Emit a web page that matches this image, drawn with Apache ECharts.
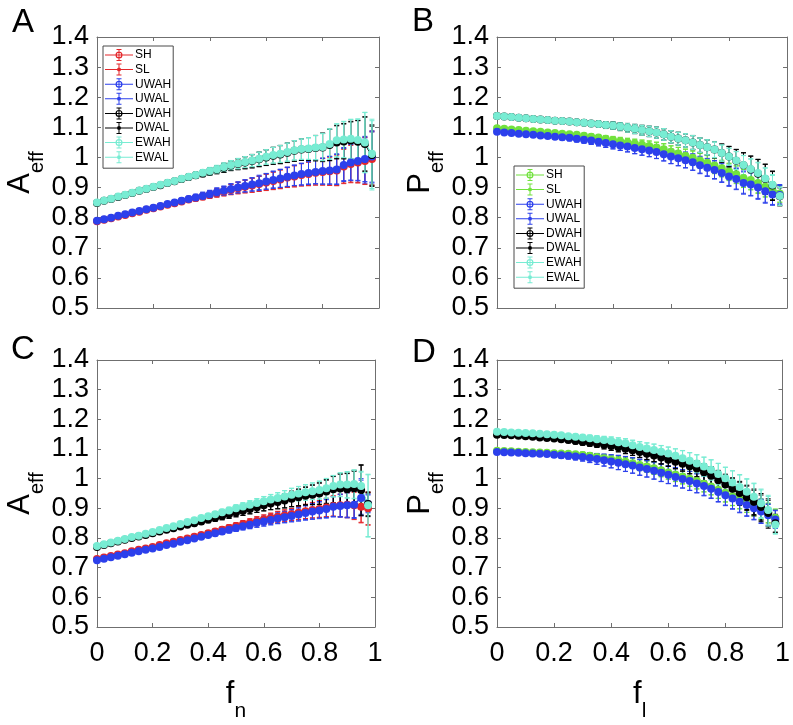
<!DOCTYPE html>
<html>
<head>
<meta charset="utf-8">
<script src="https://cdn.jsdelivr.net/npm/echarts@6/dist/echarts.min.js"></script>
<style>
html, body { margin: 0; padding: 0; background: #fff; }
#chart { width: 793px; height: 725px; }
</style>
</head>
<body>
<div id="chart"></div>
<script>
// x positions (f_n for A/C, f_l for B/D)
const fVals = [0, 0.025, 0.05, 0.075, 0.1, 0.125, 0.15, 0.175, 0.2, 0.225, 0.25, 0.275, 0.3, 0.325, 0.35, 0.375, 0.4, 0.425, 0.45, 0.475,
  0.5, 0.525, 0.55, 0.575, 0.6, 0.625, 0.65, 0.675, 0.7, 0.725, 0.75, 0.775, 0.8, 0.825, 0.85, 0.875, 0.9, 0.925, 0.95, 0.975];
const seriesNames = ['SH', 'SL', 'UWAH', 'UWAL', 'DWAH', 'DWAL', 'EWAH', 'EWAL'];
const xTicks = [0, 0.2, 0.4, 0.6, 0.8, 1];
const yTicks = [0.5, 0.6, 0.7, 0.8, 0.9, 1, 1.1, 1.2, 1.3, 1.4];

// ---- panel A : A_eff vs f_n
const A_SH = [.788,.793,.798,.804,.809,.815,.820,.826,.831,.837,.843,.848,.854,.860,.865,.870,.876,.882,.887,.893,.898,.903,.907,.912,.917,.922,.927,.933,.937,.942,.945,.949,.952,.954,.957,.970,.978,.983,.988,.995];
const A_SL = [.789,.794,.799,.805,.810,.816,.821,.827,.832,.838,.844,.849,.855,.861,.866,.871,.877,.883,.888,.894,.899,.904,.908,.913,.918,.923,.928,.934,.938,.943,.946,.950,.953,.955,.958,.972,.980,.985,.990,.998];
const A_UWAH = [.790,.795,.800,.806,.811,.817,.822,.828,.833,.839,.845,.850,.856,.862,.867,.872,.878,.884,.889,.895,.900,.905,.910,.914,.920,.925,.930,.936,.940,.945,.948,.952,.955,.957,.960,.975,.983,.988,.995,1.003];
const A_UWAL = [.791,.796,.801,.806,.812,.817,.823,.828,.834,.840,.845,.851,.857,.862,.868,.874,.879,.885,.890,.896,.901,.906,.911,.917,.921,.927,.931,.935,.941,.944,.950,.953,.954,.958,.962,.978,.985,.990,.990,1.000];
const A_DWAH = [.849,.856,.862,.869,.875,.882,.889,.895,.902,.908,.915,.921,.928,.935,.941,.947,.953,.959,.966,.973,.978,.983,.988,.994,1.000,1.006,1.010,1.016,1.022,1.026,1.028,1.031,1.033,1.041,1.050,1.053,1.056,1.052,1.045,1.008];
const A_DWAL = [.849,.855,.862,.868,.875,.881,.888,.894,.901,.908,.914,.921,.927,.934,.940,.947,.953,.959,.965,.972,.977,.982,.987,.993,.999,1.005,1.009,1.015,1.021,1.026,1.028,1.031,1.034,1.042,1.052,1.055,1.058,1.053,1.044,1.004];
const A_EWAH = [.850,.857,.863,.870,.876,.883,.890,.896,.903,.909,.916,.922,.929,.936,.942,.949,.955,.961,.968,.975,.980,.985,.990,.996,1.002,1.008,1.012,1.018,1.024,1.028,1.030,1.033,1.035,1.045,1.057,1.060,1.062,1.058,1.050,1.012];
const A_EWAL = [.849,.856,.862,.869,.875,.882,.889,.895,.902,.908,.915,.921,.928,.935,.941,.948,.954,.960,.967,.974,.979,.984,.989,.995,1.001,1.007,1.011,1.017,1.023,1.027,1.029,1.032,1.034,1.044,1.056,1.059,1.061,1.057,1.049,1.007];
const A_SErr = [.002,.002,.003,.003,.003,.004,.004,.005,.005,.006,.006,.007,.008,.009,.010,.011,.012,.014,.015,.017,.019,.021,.023,.025,.027,.029,.031,.033,.035,.037,.039,.041,.044,.047,.051,.057,.062,.068,.078,.090];
const A_UErr = [.002,.002,.003,.003,.003,.004,.004,.005,.005,.006,.006,.007,.008,.009,.010,.011,.012,.014,.015,.017,.018,.020,.022,.024,.026,.028,.030,.032,.034,.036,.038,.040,.043,.046,.050,.055,.060,.066,.075,.085];
const A_DErr = [.002,.002,.003,.003,.003,.004,.004,.005,.005,.006,.006,.007,.008,.009,.010,.011,.012,.013,.015,.016,.018,.020,.022,.024,.026,.028,.030,.032,.034,.036,.038,.042,.047,.052,.055,.058,.062,.070,.090,.100];
const A_EErr = [.002,.002,.003,.003,.003,.004,.004,.005,.005,.006,.006,.007,.008,.009,.010,.011,.012,.013,.014,.015,.017,.018,.020,.022,.024,.026,.028,.030,.032,.034,.036,.040,.045,.050,.055,.060,.065,.070,.100,.115];

// ---- panel B : P_eff vs f_l
const B_SH = [1.097,1.095,1.093,1.091,1.089,1.087,1.085,1.083,1.081,1.079,1.077,1.075,1.072,1.069,1.066,1.062,1.058,1.054,1.050,1.046,1.042,1.038,1.033,1.027,1.019,1.013,1.006,.999,.990,.982,.973,.964,.953,.944,.932,.925,.915,.903,.890,.880];
const B_SL = [1.096,1.094,1.092,1.090,1.088,1.086,1.084,1.082,1.080,1.078,1.076,1.074,1.071,1.068,1.065,1.061,1.057,1.053,1.049,1.045,1.041,1.037,1.032,1.026,1.018,1.012,1.005,.998,.989,.981,.972,.962,.951,.942,.930,.923,.912,.900,.888,.878];
const B_UWAH = [1.085,1.083,1.081,1.079,1.077,1.075,1.073,1.071,1.069,1.067,1.065,1.062,1.059,1.056,1.052,1.048,1.044,1.040,1.036,1.031,1.027,1.023,1.018,1.011,1.003,.997,.991,.984,.974,.966,.958,.948,.937,.928,.915,.910,.900,.888,.877,.875];
const B_UWAL = [1.086,1.084,1.082,1.080,1.078,1.076,1.074,1.072,1.070,1.068,1.066,1.063,1.060,1.057,1.053,1.049,1.045,1.041,1.037,1.032,1.028,1.024,1.019,1.012,1.004,.998,.992,.985,.976,.968,.960,.950,.940,.930,.918,.912,.903,.891,.880,.878];
const B_DWAH = [1.138,1.136,1.134,1.132,1.130,1.128,1.126,1.124,1.122,1.121,1.119,1.117,1.115,1.113,1.111,1.108,1.106,1.103,1.099,1.095,1.091,1.087,1.083,1.077,1.069,1.063,1.057,1.050,1.041,1.034,1.026,1.015,1.003,.989,.974,.960,.946,.928,.907,.871];
const B_DWAL = [1.137,1.135,1.133,1.131,1.129,1.127,1.125,1.123,1.121,1.120,1.118,1.116,1.114,1.112,1.110,1.107,1.105,1.102,1.098,1.094,1.090,1.086,1.082,1.076,1.068,1.062,1.056,1.049,1.040,1.033,1.025,1.014,1.002,.988,.973,.959,.945,.927,.905,.869];
const B_EWAH = [1.138,1.136,1.134,1.132,1.130,1.128,1.126,1.124,1.122,1.121,1.119,1.117,1.115,1.113,1.111,1.108,1.106,1.103,1.099,1.095,1.091,1.087,1.083,1.077,1.069,1.063,1.057,1.050,1.041,1.034,1.026,1.015,1.003,.990,.975,.962,.948,.930,.909,.872];
const B_EWAL = [1.137,1.135,1.133,1.131,1.129,1.127,1.125,1.123,1.121,1.120,1.118,1.116,1.114,1.112,1.110,1.107,1.105,1.102,1.098,1.094,1.090,1.086,1.082,1.076,1.068,1.062,1.056,1.049,1.040,1.033,1.025,1.014,1.002,.989,.974,.960,.946,.928,.906,.870];
const B_SErr = [.003,.003,.003,.004,.004,.004,.005,.005,.006,.006,.007,.007,.008,.009,.010,.011,.012,.013,.014,.015,.016,.017,.018,.019,.020,.021,.022,.023,.024,.025,.026,.027,.028,.029,.030,.031,.032,.032,.030,.028];
const B_UErr = [.003,.003,.004,.004,.005,.005,.006,.007,.008,.009,.010,.011,.012,.013,.014,.015,.016,.017,.018,.019,.020,.021,.022,.023,.024,.025,.026,.027,.028,.029,.030,.031,.033,.035,.037,.038,.039,.040,.036,.032];
const B_DErr = [.003,.003,.003,.004,.004,.004,.005,.005,.006,.006,.007,.007,.008,.009,.010,.011,.012,.013,.014,.015,.016,.017,.018,.019,.020,.021,.022,.023,.024,.025,.027,.030,.034,.038,.042,.045,.048,.050,.048,.030];
const B_EErr = [.003,.003,.003,.004,.004,.004,.005,.005,.006,.006,.007,.007,.008,.009,.010,.011,.012,.013,.014,.015,.016,.017,.018,.019,.020,.021,.022,.023,.024,.025,.026,.027,.028,.030,.032,.034,.036,.036,.034,.030];

// ---- panel C : A_eff vs f_n
const C_SH = [.729,.734,.739,.744,.749,.755,.760,.765,.770,.776,.782,.787,.793,.798,.804,.810,.816,.822,.828,.834,.840,.846,.851,.857,.862,.867,.872,.876,.880,.885,.890,.894,.898,.903,.908,.910,.912,.910,.905,.900];
const C_SL = [.728,.733,.738,.743,.748,.754,.759,.764,.769,.775,.781,.786,.792,.797,.803,.809,.815,.821,.827,.833,.839,.845,.850,.856,.861,.866,.871,.875,.879,.884,.889,.893,.897,.902,.907,.909,.910,.908,.903,.898];
const C_UWAH = [.725,.730,.735,.740,.745,.750,.755,.760,.765,.770,.776,.781,.787,.792,.798,.804,.810,.816,.822,.828,.834,.840,.845,.851,.856,.861,.866,.870,.874,.879,.884,.889,.893,.898,.905,.908,.910,.912,.935,.915];
const C_UWAL = [.726,.731,.736,.741,.746,.751,.756,.761,.766,.771,.777,.782,.788,.793,.799,.805,.811,.817,.823,.829,.835,.841,.846,.852,.857,.862,.867,.871,.876,.880,.886,.890,.895,.900,.906,.910,.912,.915,.940,.918];
const C_DWAH = [.770,.776,.782,.788,.794,.800,.805,.810,.816,.822,.828,.833,.839,.845,.850,.856,.862,.868,.874,.880,.886,.892,.898,.904,.910,.916,.921,.926,.932,.937,.942,.946,.950,.957,.964,.967,.964,.968,.962,.915];
const C_DWAL = [.769,.775,.781,.787,.793,.799,.804,.809,.815,.821,.827,.832,.838,.844,.849,.855,.861,.867,.873,.879,.885,.891,.897,.903,.909,.915,.920,.925,.931,.936,.941,.945,.949,.955,.962,.965,.962,.965,.960,.912];
const C_EWAH = [.773,.779,.785,.791,.797,.803,.808,.814,.820,.827,.834,.840,.847,.854,.860,.867,.873,.880,.887,.893,.900,.906,.912,.918,.924,.930,.935,.940,.946,.950,.954,.958,.962,.968,.975,.980,.980,.982,.975,.910];
const C_EWAL = [.772,.778,.784,.790,.796,.802,.807,.813,.819,.826,.833,.839,.846,.853,.859,.866,.872,.879,.886,.892,.899,.905,.911,.917,.923,.929,.934,.939,.945,.949,.953,.957,.961,.967,.974,.979,.978,.980,.972,.908];
const C_SErr = [.002,.002,.002,.003,.003,.003,.004,.004,.004,.005,.005,.006,.006,.007,.007,.008,.008,.009,.010,.011,.012,.013,.014,.015,.016,.017,.018,.019,.020,.022,.024,.026,.028,.031,.034,.038,.042,.046,.052,.055];
const C_UErr = [.002,.002,.002,.003,.003,.003,.004,.004,.004,.005,.005,.006,.006,.007,.007,.008,.008,.009,.010,.011,.012,.013,.014,.015,.016,.017,.018,.019,.020,.022,.024,.026,.028,.031,.034,.038,.042,.046,.060,.030];
const C_DErr = [.002,.002,.002,.003,.003,.003,.004,.004,.004,.005,.005,.006,.006,.007,.008,.009,.010,.011,.012,.013,.014,.015,.016,.017,.018,.020,.022,.024,.026,.028,.030,.033,.036,.040,.045,.050,.055,.060,.085,.040];
const C_EErr = [.002,.002,.002,.003,.003,.003,.004,.004,.004,.005,.005,.006,.006,.007,.007,.008,.008,.009,.010,.011,.012,.013,.014,.015,.016,.017,.018,.020,.022,.024,.026,.028,.030,.033,.036,.040,.044,.048,.050,.105];

// ---- panel D : P_eff vs f_l
const D_SH = [1.094,1.093,1.092,1.091,1.090,1.089,1.088,1.087,1.086,1.085,1.084,1.082,1.080,1.077,1.073,1.069,1.065,1.061,1.057,1.052,1.046,1.041,1.035,1.028,1.021,1.014,1.007,1.000,.992,.983,.974,.963,.952,.941,.931,.920,.909,.898,.885,.868];
const D_SL = [1.093,1.092,1.091,1.090,1.089,1.088,1.087,1.086,1.085,1.084,1.083,1.081,1.079,1.076,1.072,1.068,1.064,1.060,1.056,1.051,1.045,1.040,1.034,1.027,1.020,1.013,1.006,.999,.991,.982,.973,.962,.951,.940,.930,.919,.908,.896,.883,.866];
const D_UWAH = [1.090,1.089,1.088,1.087,1.086,1.085,1.084,1.083,1.081,1.079,1.077,1.075,1.073,1.070,1.066,1.062,1.058,1.054,1.049,1.044,1.038,1.033,1.027,1.020,1.013,1.006,.999,.992,.984,.975,.966,.955,.944,.933,.922,.911,.900,.889,.877,.862];
const D_UWAL = [1.091,1.090,1.089,1.088,1.087,1.086,1.085,1.084,1.082,1.080,1.078,1.076,1.074,1.071,1.067,1.063,1.059,1.055,1.050,1.045,1.039,1.034,1.028,1.021,1.014,1.007,1.000,.993,.985,.977,.968,.957,.946,.935,.924,.913,.902,.891,.879,.864];
const D_DWAH = [1.148,1.147,1.146,1.145,1.143,1.141,1.139,1.137,1.135,1.133,1.130,1.127,1.124,1.121,1.118,1.114,1.110,1.106,1.101,1.096,1.090,1.084,1.078,1.071,1.064,1.057,1.050,1.042,1.034,1.022,1.010,.995,.980,.966,.952,.937,.922,.905,.885,.850];
const D_DWAL = [1.147,1.146,1.145,1.144,1.142,1.140,1.138,1.136,1.134,1.132,1.129,1.126,1.123,1.120,1.117,1.113,1.109,1.105,1.100,1.095,1.089,1.083,1.077,1.070,1.063,1.056,1.049,1.041,1.032,1.020,1.008,.993,.978,.963,.949,.934,.918,.900,.880,.848];
const D_EWAH = [1.158,1.157,1.156,1.155,1.154,1.153,1.151,1.150,1.148,1.146,1.143,1.141,1.139,1.136,1.133,1.130,1.127,1.123,1.119,1.113,1.107,1.102,1.097,1.091,1.085,1.077,1.069,1.060,1.051,1.041,1.030,1.016,1.001,.987,.972,.956,.939,.917,.894,.845];
const D_EWAL = [1.157,1.156,1.155,1.154,1.153,1.152,1.150,1.149,1.147,1.145,1.142,1.140,1.138,1.135,1.132,1.129,1.126,1.122,1.118,1.112,1.106,1.101,1.096,1.090,1.084,1.076,1.068,1.059,1.050,1.040,1.029,1.015,1.000,.986,.970,.954,.937,.914,.890,.843];
const D_SErr = [.003,.003,.003,.004,.004,.005,.005,.006,.006,.007,.008,.009,.010,.011,.012,.013,.014,.015,.016,.017,.018,.019,.020,.021,.022,.023,.024,.025,.026,.027,.028,.029,.030,.031,.032,.033,.034,.034,.033,.030];
const D_UErr = [.003,.003,.004,.004,.005,.006,.007,.008,.009,.010,.011,.012,.014,.016,.018,.020,.022,.024,.025,.026,.027,.028,.029,.030,.030,.031,.031,.032,.032,.033,.033,.034,.035,.036,.037,.038,.039,.040,.036,.030];
const D_DErr = [.003,.003,.003,.004,.004,.005,.005,.006,.006,.007,.008,.009,.010,.011,.012,.013,.014,.015,.016,.017,.018,.019,.020,.021,.022,.023,.024,.025,.027,.029,.031,.033,.035,.037,.039,.041,.043,.045,.047,.030];
const D_EErr = [.003,.003,.003,.004,.004,.005,.005,.006,.006,.007,.008,.009,.010,.011,.012,.013,.014,.015,.016,.017,.018,.019,.020,.021,.022,.024,.026,.028,.030,.032,.034,.036,.038,.040,.042,.044,.046,.048,.050,.030];

const RED = '#e3272b';
const GREEN = '#72e23e';
const BLUE = '#2c40ec';
const BLACK = '#000000';
const CYAN = '#78ecd3';
const AXIS = '#6f6f6f';
const FONT = '"Liberation Sans", Arial, sans-serif';

const panels = [
    { vals: [A_SH, A_SL, A_UWAH, A_UWAL, A_DWAH, A_DWAL, A_EWAH, A_EWAL],
      errs: [A_SErr, A_SErr, A_UErr, A_UErr, A_DErr, A_DErr, A_EErr, A_EErr], sColor: RED, yName: 'A', xName: 'n' },
    { vals: [B_SH, B_SL, B_UWAH, B_UWAL, B_DWAH, B_DWAL, B_EWAH, B_EWAL],
      errs: [B_SErr, B_SErr, B_UErr, B_UErr, B_DErr, B_DErr, B_EErr, B_EErr], sColor: GREEN, yName: 'P', xName: 'l' },
    { vals: [C_SH, C_SL, C_UWAH, C_UWAL, C_DWAH, C_DWAL, C_EWAH, C_EWAL],
      errs: [C_SErr, C_SErr, C_UErr, C_UErr, C_DErr, C_DErr, C_EErr, C_EErr], sColor: RED, yName: 'A', xName: 'n' },
    { vals: [D_SH, D_SL, D_UWAH, D_UWAL, D_DWAH, D_DWAL, D_EWAH, D_EWAL],
      errs: [D_SErr, D_SErr, D_UErr, D_UErr, D_DErr, D_DErr, D_EErr, D_EErr], sColor: GREEN, yName: 'P', xName: 'l' }
];

const grids = [
    { left: 97, top: 37, width: 282, height: 271 },
    { left: 497, top: 37, width: 290, height: 271 },
    { left: 97, top: 360, width: 278, height: 267 },
    { left: 497, top: 360, width: 289, height: 267 }
];

const seriesColors = (sColor) => [sColor, sColor, BLUE, BLUE, BLACK, BLACK, CYAN, CYAN];

const axisLineStyle = { show: true, onZero: false, lineStyle: { color: AXIS, width: 1 } };
const tickStyle = { show: true, inside: true, length: 4, lineStyle: { color: AXIS } };
const labelStyle = { color: '#000', fontSize: 27, fontFamily: FONT };

// main symbol + subscript, as rich text
const yNameStyle = {
    color: '#000', fontFamily: FONT,
    rich: {
        a: { fontSize: 31, lineHeight: 31, verticalAlign: 'top', fontFamily: FONT, color: '#000' },
        b: { fontSize: 20, lineHeight: 20, verticalAlign: 'top', fontFamily: FONT, color: '#000', padding: [23, 0, 0, 0] }
    }
};
const xNameStyle = {
    color: '#000', fontFamily: FONT,
    rich: {
        a: { fontSize: 31, lineHeight: 31, verticalAlign: 'top', fontFamily: FONT, color: '#000' },
        b: { fontSize: 21, lineHeight: 21, verticalAlign: 'top', fontFamily: FONT, color: '#000', padding: [22, 0, 0, 0] }
    }
};

const xAxes = [];
const yAxes = [];
grids.forEach((g, i) => {
    const bottomRow = i >= 2;
    xAxes.push({
        gridIndex: i, type: 'value', position: 'bottom',
        min: xTicks[0], max: xTicks[xTicks.length - 1], interval: 0.2,
        axisLine: axisLineStyle, axisTick: tickStyle, splitLine: { show: false },
        axisLabel: Object.assign({ show: bottomRow, margin: 13 }, labelStyle),
        name: bottomRow ? '{a|f}{b|' + panels[i].xName + '}' : '',
        nameLocation: 'middle', nameGap: 52, nameTextStyle: xNameStyle
    });
    xAxes.push({
        gridIndex: i, type: 'value', position: 'top',
        min: xTicks[0], max: xTicks[xTicks.length - 1], interval: 0.2,
        axisLine: axisLineStyle, axisTick: tickStyle, splitLine: { show: false },
        axisLabel: { show: false }
    });
    yAxes.push({
        gridIndex: i, type: 'value', position: 'left',
        min: yTicks[0], max: yTicks[yTicks.length - 1], interval: 0.1,
        axisLine: axisLineStyle, axisTick: tickStyle, splitLine: { show: false },
        axisLabel: Object.assign({ margin: 8 }, labelStyle),
        name: '{a|' + panels[i].yName + '}{b|eff}',
        nameLocation: 'middle', nameRotate: 90, nameGap: 52, nameTextStyle: yNameStyle
    });
    yAxes.push({
        gridIndex: i, type: 'value', position: 'right',
        min: yTicks[0], max: yTicks[yTicks.length - 1], interval: 0.1,
        axisLine: axisLineStyle, axisTick: tickStyle, splitLine: { show: false },
        axisLabel: { show: false }
    });
});

function errRender(color) {
    return function (params, api) {
        const lo = api.coord([api.value(0), api.value(1)]);
        const hi = api.coord([api.value(0), api.value(2)]);
        const x = lo[0];
        const cap = 2.5;
        const st = { stroke: color, lineWidth: 1 };
        return {
            type: 'group',
            children: [
                { type: 'line', shape: { x1: x, y1: lo[1], x2: x, y2: hi[1] }, style: st },
                { type: 'line', shape: { x1: x - cap, y1: lo[1], x2: x + cap, y2: lo[1] }, style: st },
                { type: 'line', shape: { x1: x - cap, y1: hi[1], x2: x + cap, y2: hi[1] }, style: st }
            ]
        };
    };
}

const series = [];
panels.forEach((p, pi) => {
    const cols = seriesColors(p.sColor);
    seriesNames.forEach((name, si) => {
        const vals = p.vals[si];
        const err = p.errs[si];
        const isH = si % 2 === 0;
        series.push({
            type: 'custom', name: name,
            xAxisIndex: pi * 2, yAxisIndex: pi * 2,
            data: fVals.map((f, k) => [f, vals[k] - err[k], vals[k] + err[k]]),
            renderItem: errRender(cols[si]),
            silent: true
        });
        series.push({
            type: 'line', name: name,
            xAxisIndex: pi * 2, yAxisIndex: pi * 2,
            data: fVals.map((f, k) => [f, vals[k]]),
            symbol: 'circle', symbolSize: isH ? 8 : 5,
            showSymbol: true, showAllSymbol: true,
            lineStyle: { color: cols[si], width: 1 },
            itemStyle: { color: cols[si] },
            silent: true
        });
    });
});

// legend icons: horizontal line + error bar + open circle (H) or dot (L)
const iconBase = 'M0 5.5 H28 V6.5 H0 Z M13.5 0 H14.5 V12 H13.5 Z M11.5 0 H16.5 V1 H11.5 Z M11.5 11 H16.5 V12 H11.5 Z ';
const iconH = 'path://' + iconBase +
    'M17.5 6 A3.5 3.5 0 1 1 10.5 6 A3.5 3.5 0 1 1 17.5 6 Z M16.3 6 A2.3 2.3 0 1 0 11.7 6 A2.3 2.3 0 1 0 16.3 6 Z';
const iconL = 'path://' + iconBase +
    'M16 6 A2 2 0 1 1 12 6 A2 2 0 1 1 16 6 Z';

function legendFor(sColor, left, top) {
    const cols = seriesColors(sColor);
    return {
        orient: 'vertical', left: left, top: top,
        itemWidth: 28, itemHeight: 12, itemGap: 2.6,
        padding: [3, 2, 5, 2],
        backgroundColor: '#fff', borderColor: '#4a4a4a', borderWidth: 1,
        textStyle: { fontSize: 12, fontFamily: FONT, color: '#000', lineHeight: 12, padding: [0, 0, 0, -3] },
        selectedMode: false,
        data: seriesNames.map((n, i) => ({
            name: n, icon: i % 2 === 0 ? iconH : iconL,
            itemStyle: { color: cols[i] }
        }))
    };
}

function letter(x, y, text) {
    return {
        type: 'text', x: x, y: y, silent: true,
        style: { text: text, font: '33px ' + FONT, fill: '#000', align: 'center', verticalAlign: 'middle' }
    };
}

const chart = echarts.init(document.getElementById('chart'), null, { renderer: 'canvas' });
chart.setOption({
    animation: false,
    backgroundColor: '#fff',
    grid: grids,
    xAxis: xAxes,
    yAxis: yAxes,
    legend: [legendFor(RED, 103, 46), legendFor(GREEN, 514, 166)],
    graphic: [letter(23, 23, 'A'), letter(423, 22, 'B'), letter(23, 350, 'C'), letter(424, 353, 'D')],
    series: series
});
</script>
</body>
</html>
